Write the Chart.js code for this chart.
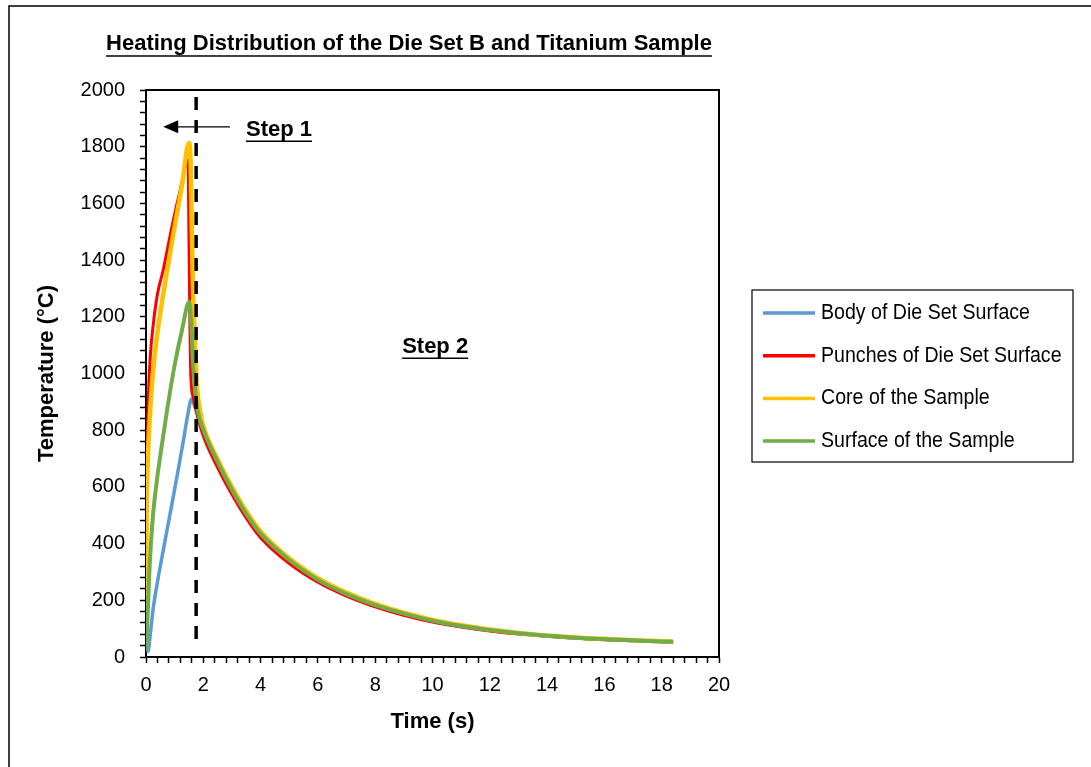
<!DOCTYPE html>
<html>
<head>
<meta charset="utf-8">
<title>Heating Distribution of the Die Set B and Titanium Sample</title>
<script src="https://cdn.jsdelivr.net/npm/chart.js@4.4.1/dist/chart.umd.min.js"></script>
<style>
  html, body { margin: 0; padding: 0; background: #fff; }
  #wrap { width: 1091px; height: 767px; }
</style>
</head>
<body>
<div id="wrap"><canvas id="heatChart" width="1091" height="767"></canvas></div>
<script>
// time (s) / temperature (°C) readings for each probe
const bodyTime = [0, 0.07, 0.15, 0.25, 0.4, 0.6, 0.84, 1.07, 1.3, 1.45, 1.59, 1.7, 1.8, 2, 2.5, 3, 3.5, 4, 5, 6, 7, 8, 9, 10, 11, 12, 13, 14, 15, 16, 17, 18, 18.4];
const bodyTemp = [40, 20, 80, 170, 265, 375, 505, 630, 760, 850, 910, 885, 858, 795, 680, 582, 497, 428, 336, 270, 220, 181, 151, 126, 108, 94, 83, 75, 68, 63, 58, 55, 53];

const punchTime = [0, 0.01, 0.03, 0.05, 0.08, 0.15, 0.25, 0.4, 0.6, 0.9, 1.19, 1.47, 1.5, 1.53, 1.56, 1.65, 1.8, 2, 2.5, 3, 3.5, 4, 5, 6, 7, 8, 9, 10, 11, 12, 13, 14, 15, 16, 17, 18, 18.4];
const punchTemp = [25, 300, 600, 780, 910, 1060, 1170, 1280, 1365, 1515, 1645, 1753, 1480, 1200, 1000, 915, 848, 780, 668, 573, 490, 421, 330, 264, 215, 177, 147, 123, 106, 92, 81, 73, 66, 61, 57, 54, 52];

const coreTime = [0, 0.02, 0.06, 0.12, 0.2, 0.3, 0.45, 0.66, 0.95, 1.25, 1.5, 1.56, 1.6, 1.65, 1.68, 1.73, 1.79, 1.9, 2, 2.5, 3, 3.5, 4, 5, 6, 7, 8, 9, 10, 11, 12, 13, 14, 15, 16, 17, 18, 18.4];
const coreTemp = [25, 480, 680, 820, 950, 1060, 1180, 1315, 1490, 1660, 1814, 1740, 1506, 1270, 1178, 1059, 942, 862, 815, 698, 600, 514, 443, 348, 278, 227, 187, 156, 131, 112, 97, 85, 76, 69, 64, 59, 56, 54];

const surfTime = [0, 0.02, 0.05, 0.12, 0.23, 0.37, 0.55, 0.75, 1.0, 1.25, 1.51, 1.58, 1.63, 1.7, 1.8, 2, 2.5, 3, 3.5, 4, 5, 6, 7, 8, 9, 10, 11, 12, 13, 14, 15, 16, 17, 18, 18.4];
const surfTemp = [25, 36, 130, 307, 483, 615, 745, 880, 1030, 1150, 1253, 1178, 1059, 960, 872, 802, 688, 590, 505, 435, 342, 272, 222, 183, 153, 128, 109, 95, 84, 75, 68, 63, 59, 55, 54];

// end of step 1 (dashed divider)
const stepEndTime = [1.75, 1.75];
const stepEndTemp = [1975, 30];

const seriesNames = ['Body of Die Set Surface', 'Punches of Die Set Surface', 'Core of the Sample', 'Surface of the Sample'];
const seriesColors = ['#5B9BD5', '#FF0000', '#FFC000', '#70AD47'];

const chartTitle = 'Heating Distribution of the Die Set B and Titanium Sample';

// annotation placement in data units
const notes = {
  arrow: { from: 2.93, to: 0.6, temp: 1870 },
  step1: { text: 'Step 1', time: 3.49, temp: 1858 },
  step2: { text: 'Step 2', time: 8.94, temp: 1093 }
};

const FONT = "'Liberation Sans Narrow', 'Arial Narrow', 'Liberation Sans', Arial, sans-serif";

const toPoints = (xs, ys) => xs.map((x, i) => ({ x: x, y: ys[i] }));
const isMajor = (v, step) => Math.abs(v / step - Math.round(v / step)) < 1e-6;

function underlined(ctx, text, x, y, font, align, gap) {
  ctx.font = font;
  ctx.textAlign = align;
  ctx.textBaseline = 'middle';
  ctx.fillStyle = '#000';
  ctx.fillText(text, x, y);
  const w = ctx.measureText(text).width;
  const x0 = align === 'center' ? x - w / 2 : x;
  ctx.strokeStyle = '#000';
  ctx.lineWidth = 1.5;
  ctx.beginPath();
  ctx.moveTo(x0, y + gap);
  ctx.lineTo(x0 + w, y + gap);
  ctx.stroke();
}

const decorations = {
  id: 'decorations',
  beforeDraw(chart) {
    const ctx = chart.ctx;
    ctx.save();
    ctx.fillStyle = '#fff';
    ctx.fillRect(0, 0, chart.width, chart.height);
    // outer frame (runs off the right and bottom edges)
    ctx.strokeStyle = '#000';
    ctx.lineWidth = 1.5;
    ctx.strokeRect(9, 6, chart.width + 20, chart.height + 20);
    ctx.restore();
  },
  afterDraw(chart) {
    const { ctx, chartArea: a, scales: { x, y } } = chart;
    ctx.save();

    // top and right sides of the plot box
    ctx.strokeStyle = '#000';
    ctx.lineWidth = 2;
    ctx.beginPath();
    ctx.moveTo(a.left, a.top);
    ctx.lineTo(a.right, a.top);
    ctx.lineTo(a.right, a.bottom);
    ctx.stroke();

    underlined(ctx, chartTitle, 409, 44, 'bold 22px ' + FONT, 'center', 12);

    // step 1 arrow
    const ay = y.getPixelForValue(notes.arrow.temp);
    const ax0 = x.getPixelForValue(notes.arrow.from);
    const ax1 = x.getPixelForValue(notes.arrow.to);
    ctx.strokeStyle = '#000';
    ctx.lineWidth = 1.3;
    ctx.beginPath();
    ctx.moveTo(ax0, ay);
    ctx.lineTo(ax1 + 12, ay);
    ctx.stroke();
    ctx.fillStyle = '#000';
    ctx.beginPath();
    ctx.moveTo(ax1, ay);
    ctx.lineTo(ax1 + 15, ay - 6.5);
    ctx.lineTo(ax1 + 15, ay + 6.5);
    ctx.closePath();
    ctx.fill();

    for (const n of [notes.step1, notes.step2]) {
      underlined(ctx, n.text, x.getPixelForValue(n.time), y.getPixelForValue(n.temp), 'bold 22px ' + FONT, 'left', 11);
    }

    // legend box
    const box = { left: 752, top: 290, width: 321, height: 172 };
    ctx.strokeStyle = '#000';
    ctx.lineWidth = 1.2;
    ctx.strokeRect(box.left, box.top, box.width, box.height);
    chart.data.datasets.filter(d => d.label).forEach((d, i) => {
      const ry = box.top + 23 + i * 42.7;
      ctx.strokeStyle = d.borderColor;
      ctx.lineWidth = 3.5;
      ctx.beginPath();
      ctx.moveTo(box.left + 11, ry);
      ctx.lineTo(box.left + 63, ry);
      ctx.stroke();
      // condensed label text
      ctx.save();
      ctx.translate(box.left + 69, ry);
      ctx.scale(0.89, 1);
      ctx.fillStyle = '#000';
      ctx.font = '22px ' + FONT;
      ctx.textAlign = 'left';
      ctx.textBaseline = 'middle';
      ctx.fillText(d.label, 0, 0);
      ctx.restore();
    });
    ctx.restore();
  }
};

const curveStyle = { pointRadius: 0, fill: false, cubicInterpolationMode: 'monotone' };

const data = {
  datasets: [
    { label: seriesNames[0], data: toPoints(bodyTime, bodyTemp), borderColor: seriesColors[0], borderWidth: 3.5, order: 4, ...curveStyle },
    { label: seriesNames[1], data: toPoints(punchTime, punchTemp), borderColor: seriesColors[1], borderWidth: 3, order: 3, ...curveStyle },
    { label: seriesNames[2], data: toPoints(coreTime, coreTemp), borderColor: seriesColors[2], borderWidth: 4.5, order: 2, ...curveStyle },
    { label: seriesNames[3], data: toPoints(surfTime, surfTemp), borderColor: seriesColors[3], borderWidth: 4, order: 1, ...curveStyle },
    { label: '', data: toPoints(stepEndTime, stepEndTemp), borderColor: '#000', borderWidth: 3.5, borderDash: [13, 10], pointRadius: 0, order: 0 }
  ]
};

Chart.defaults.font.family = FONT;
Chart.defaults.color = '#000';

new Chart(document.getElementById('heatChart'), {
  type: 'line',
  data: data,
  options: {
    responsive: false,
    animation: false,
    layout: { padding: { top: 90, right: 372, bottom: 0, left: 0 } },
    plugins: { legend: { display: false }, tooltip: { enabled: false } },
    scales: {
      x: {
        type: 'linear',
        min: 0,
        max: 20,
        ticks: {
          stepSize: 0.4,
          autoSkip: false,
          maxRotation: 0,
          padding: 10,
          font: { size: 20 },
          callback: v => isMajor(v, 2) ? v : ''
        },
        grid: { drawOnChartArea: false, tickLength: 6, tickColor: '#000', tickWidth: 1.5 },
        border: { color: '#000', width: 2 },
        title: { display: true, text: 'Time (s)', font: { size: 22, weight: 'bold' }, padding: { top: 0, bottom: 32 } },
        afterFit: s => { s.height = 110; }
      },
      y: {
        min: 0,
        max: 2000,
        ticks: {
          stepSize: 40,
          autoSkip: false,
          padding: 15,
          font: { size: 20 },
          callback: v => isMajor(v, 200) ? v : ''
        },
        grid: { drawOnChartArea: false, tickLength: 6, tickColor: '#000', tickWidth: 1.5 },
        border: { color: '#000', width: 2 },
        title: { display: true, text: 'Temperature (°C)', font: { size: 22, weight: 'bold' }, padding: { top: 34, bottom: 0 } },
        afterFit: s => { s.width = 146; }
      }
    }
  },
  plugins: [decorations]
});
</script>
</body>
</html>
